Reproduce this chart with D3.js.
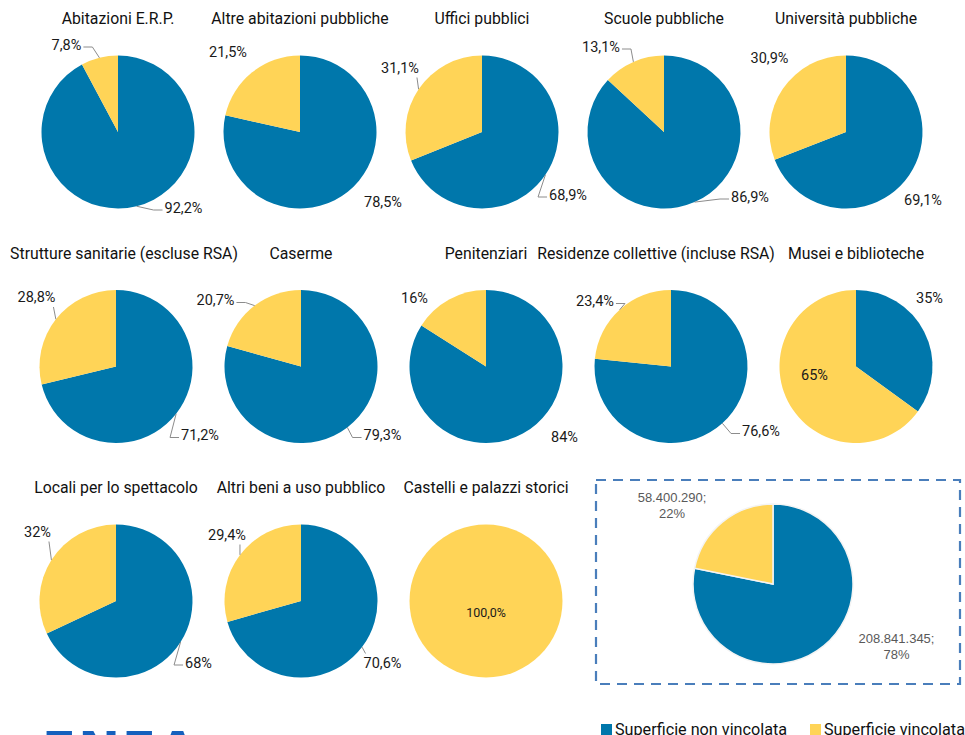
<!DOCTYPE html>
<html>
<head>
<meta charset="utf-8">
<script src="https://cdn.jsdelivr.net/npm/d3@7"></script>
<style>
  body { margin: 0; background: #fff; }
  svg { display: block; font-family: Roboto, "Noto Sans", sans-serif; }
</style>
</head>
<body>
<svg id="chart" width="965" height="735"></svg>
<script>
  // ---- data ----
  const titles = [
    "Abitazioni E.R.P.", "Altre abitazioni pubbliche", "Uffici pubblici", "Scuole pubbliche", "Università pubbliche",
    "Strutture sanitarie (escluse RSA)", "Caserme", "Penitenziari", "Residenze collettive (incluse RSA)", "Musei e biblioteche",
    "Locali per lo spettacolo", "Altri beni a uso pubblico", "Castelli e palazzi storici"
  ];
  const nonVincolata = [92.2, 78.5, 68.9, 86.9, 69.1, 71.2, 79.3, 84, 76.6, 35, 68, 70.6, 0];
  const vincolata = [7.8, 21.5, 31.1, 13.1, 30.9, 28.8, 20.7, 16, 23.4, 65, 32, 29.4, 100];
  const labelsNon = ["92,2%", "78,5%", "68,9%", "86,9%", "69,1%", "71,2%", "79,3%", "84%", "76,6%", "35%", "68%", "70,6%", ""];
  const labelsVinc = ["7,8%", "21,5%", "31,1%", "13,1%", "30,9%", "28,8%", "20,7%", "16%", "23,4%", "65%", "32%", "29,4%", "100,0%"];
  const seriesNames = ["Superficie non vincolata", "Superficie vincolata"];
  const totalValues = [208841345, 58400290];
  const totalLabels = [["208.841.345;", "78%"], ["58.400.290;", "22%"]];

  // ---- layout ----
  const colors = ["#0077AB", "#FFD457"];
  const radius = 76.5;
  const rowY = d3.scalePoint().domain([0, 1, 2]).range([132, 601]);
  const colX = [
    d3.scalePoint().domain(d3.range(5)).range([118, 846]),
    d3.scalePoint().domain(d3.range(5)).range([116, 856]),
    d3.scalePoint().domain(d3.range(5)).range([116, 856])
  ];
  // horizontal nudge of some long titles
  const titleShift = [0, 0, 0, 0, 0, 8, 0, 0, -15, 0, 0, 0, 0];
  // label offsets from pie centre, [non vincolata, vincolata]
  const labelPlace = [
    [[65.5, 76], [-51.5, -87]],
    [[83, 70], [-72, -80]],
    [[86, 63], [-82, -64]],
    [[86, 65], [-63, -85]],
    [[77, 68], [-76.5, -74]],
    [[84, 69], [-79.5, -69]],
    [[81.5, 69], [-85.5, -66]],
    [[78.5, 71], [-71.5, -68]],
    [[90, 65], [-76, -65]],
    [[73.5, -68], [-41.5, 9]],
    [[82.5, 62], [-78.5, -69]],
    [[81.5, 62], [-74, -66]],
    [null, [0, 11]]
  ];
  const leaders = [
    [1, 1], [0, 0], [1, 1], [1, 1], [0, 0],
    [1, 1], [1, 1], [0, 0], [1, 1], [0, 0],
    [1, 1], [1, 1], [0, 0]
  ];

  const svg = d3.select("#chart");
  const pie = d3.pie().sort(null).value(d => d.value);
  const arc = d3.arc().innerRadius(0).outerRadius(radius);
  const edgeArc = d3.arc().innerRadius(radius).outerRadius(radius);

  function leaderPoints(E, box) {
    const tol = 3;
    if (E[0] >= box.x - tol && E[0] <= box.x + box.width + tol) {
      const x = Math.max(box.x + 2, Math.min(box.x + box.width - 2, E[0]));
      const y = E[1] > box.y + box.height ? box.y + box.height + 1 : box.y - 1;
      return [[x, y], E];
    }
    const left = E[0] < box.x;
    const xa = left ? box.x - 2 : box.x + box.width + 2;
    const ya = box.y + box.height / 2 + 2;
    const xe = left ? xa - 9 : xa + 9;
    return [[xa, ya], [xe, ya], E];
  }

  titles.forEach((title, i) => {
    const row = Math.floor(i / 5), col = i % 5;
    const cx = colX[row](col), cy = rowY(row);
    const g = svg.append("g").attr("transform", `translate(${cx},${cy})`);

    g.append("text")
      .attr("x", titleShift[i])
      .attr("y", -108)
      .attr("text-anchor", "middle")
      .attr("font-size", 15.8)
      .attr("fill", "#111")
      .text(title);

    const slices = pie([
      { value: nonVincolata[i], label: labelsNon[i], k: 0 },
      { value: vincolata[i], label: labelsVinc[i], k: 1 }
    ]);

    g.selectAll("path.slice")
      .data(slices.filter(d => d.value > 0))
      .join("path")
      .attr("class", "slice")
      .attr("d", arc)
      .attr("fill", d => colors[d.data.k]);

    slices.filter(d => d.value > 0 && labelPlace[i][d.data.k]).forEach(d => {
      const [dx, dy] = labelPlace[i][d.data.k];
      const t = g.append("text")
        .attr("x", dx)
        .attr("y", dy)
        .attr("text-anchor", "middle")
        .attr("dominant-baseline", "central")
        .attr("font-size", d.value === 100 ? 12.5 : 14.5)
        .attr("fill", "#1a1a1a")
        .text(d.data.label);
      if (leaders[i][d.data.k]) {
        const box = t.node().getBBox();
        const E = edgeArc.centroid(d);
        g.append("polyline")
          .attr("points", leaderPoints(E, box).map(p => p.join(",")).join(" "))
          .attr("fill", "none")
          .attr("stroke", "#8c8c8c")
          .attr("stroke-width", 1);
      }
    });
  });

  // ---- summary pie in dashed box ----
  svg.append("rect")
    .attr("x", 596).attr("y", 480)
    .attr("width", 364).attr("height", 204)
    .attr("fill", "none")
    .attr("stroke", "#4A7EBB")
    .attr("stroke-width", 2.2)
    .attr("stroke-dasharray", "10,7");

  const tg = svg.append("g").attr("transform", "translate(773,584)");
  const totalR = 80;
  const totalSlices = pie(totalValues.map((v, k) => ({ value: v, k })));
  tg.selectAll("path")
    .data(totalSlices)
    .join("path")
    .attr("d", d3.arc().innerRadius(0).outerRadius(totalR))
    .attr("fill", d => colors[d.data.k])
    .attr("stroke", "#f4f4f4")
    .attr("stroke-width", 1.5);

  const totalPlace = [[123.5, 54], [-101, -87]];
  totalSlices.forEach(d => {
    const [dx, dy] = totalPlace[d.data.k];
    tg.append("text")
      .attr("text-anchor", "middle")
      .attr("font-family", "'Liberation Sans', Arial, sans-serif")
      .attr("font-size", 13)
      .attr("fill", "#595959")
      .selectAll("tspan")
      .data(totalLabels[d.data.k])
      .join("tspan")
      .attr("x", dx)
      .attr("y", (s, j) => dy + 5 + j * 16)
      .text(s => s);
  });

  // ---- legend (cut by the bottom edge, as in the source) ----
  const legendX = [601, 810];
  const lg = svg.append("g");
  seriesNames.forEach((name, k) => {
    lg.append("rect")
      .attr("x", legendX[k]).attr("y", 724)
      .attr("width", 11).attr("height", 11)
      .attr("fill", colors[k]);
    lg.append("text")
      .attr("x", legendX[k] + 14).attr("y", 735)
      .attr("font-size", 16.2)
      .attr("fill", "#111")
      .text(name);
  });

  // ---- cropped logo at the bottom ----
  svg.append("text")
    .attr("x", 42).attr("y", 767)
    .attr("font-family", "'DejaVu Sans', sans-serif")
    .attr("font-weight", "bold")
    .attr("font-size", 50)
    .attr("fill", "#1560BD")
    .attr("letter-spacing", 2)
    .text("ENEA");
</script>
</body>
</html>
